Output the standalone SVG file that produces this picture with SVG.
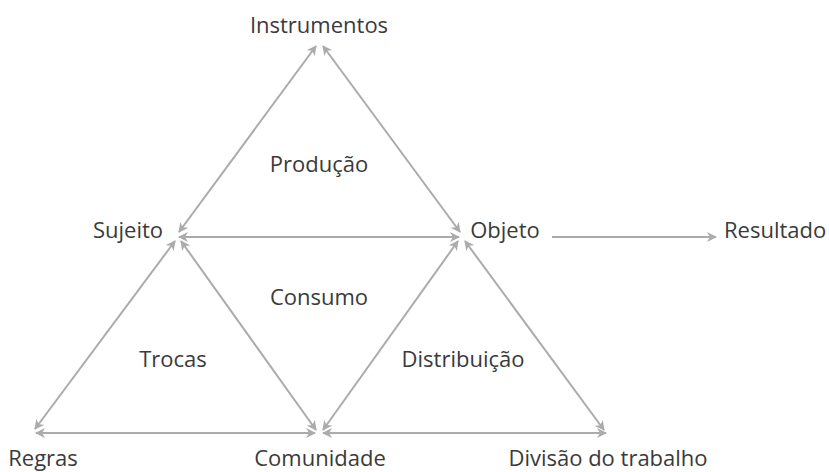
<svg xmlns="http://www.w3.org/2000/svg" width="829" height="472" viewBox="0 0 829 472">
<style>
text{font-family:"Open Sans","Liberation Sans",sans-serif;font-size:22px;fill:#3a3a3a;text-anchor:middle}
.c line{stroke:#ababab;stroke-width:2;fill:none}
.d{marker-start:url(#a);marker-end:url(#a)}
.s{marker-end:url(#a)}
</style>
<defs>
<marker id="a" viewBox="0 0 10 10" refX="9" refY="5" markerWidth="5" markerHeight="5" orient="auto-start-reverse" markerUnits="strokeWidth">
<path d="M0,0 L10,5 L0,10 L3,5 Z" fill="#ababab"/>
</marker>
</defs>
<rect width="829" height="472" fill="#fff"/>
<g class="c" id="connectors">
<line class="d" x1="179" y1="232" x2="316" y2="46"/>
<line class="d" x1="323" y1="46" x2="460" y2="232"/>
<line class="d" x1="179" y1="237" x2="459" y2="237"/>
<line class="d" x1="175" y1="241" x2="35" y2="429"/>
<line class="d" x1="181" y1="241" x2="316" y2="430"/>
<line class="d" x1="458" y1="241" x2="323" y2="430"/>
<line class="d" x1="465" y1="241" x2="604" y2="430"/>
<line class="d" x1="36" y1="433" x2="315" y2="433"/>
<line class="d" x1="323" y1="433" x2="606" y2="433"/>
<line class="s" x1="552" y1="237" x2="716" y2="237"/>
</g>
<g id="instrumentos"><text x="319" y="33">Instrumentos</text></g>
<g id="sujeito"><text x="128" y="238">Sujeito</text></g>
<g id="objeto"><text x="505" y="238">Objeto</text></g>
<g id="resultado"><text x="724" y="238" style="text-anchor:start">Resultado</text></g>
<g id="regras"><text x="43" y="466">Regras</text></g>
<g id="comunidade"><text x="320" y="466">Comunidade</text></g>
<g id="divisao"><text x="608" y="466">Divisão do trabalho</text></g>
<g id="producao"><text x="319" y="172">Produção</text></g>
<g id="consumo"><text x="319" y="305">Consumo</text></g>
<g id="trocas"><text x="173" y="367">Trocas</text></g>
<g id="distribuicao"><text x="463" y="367">Distribuição</text></g>
</svg>
